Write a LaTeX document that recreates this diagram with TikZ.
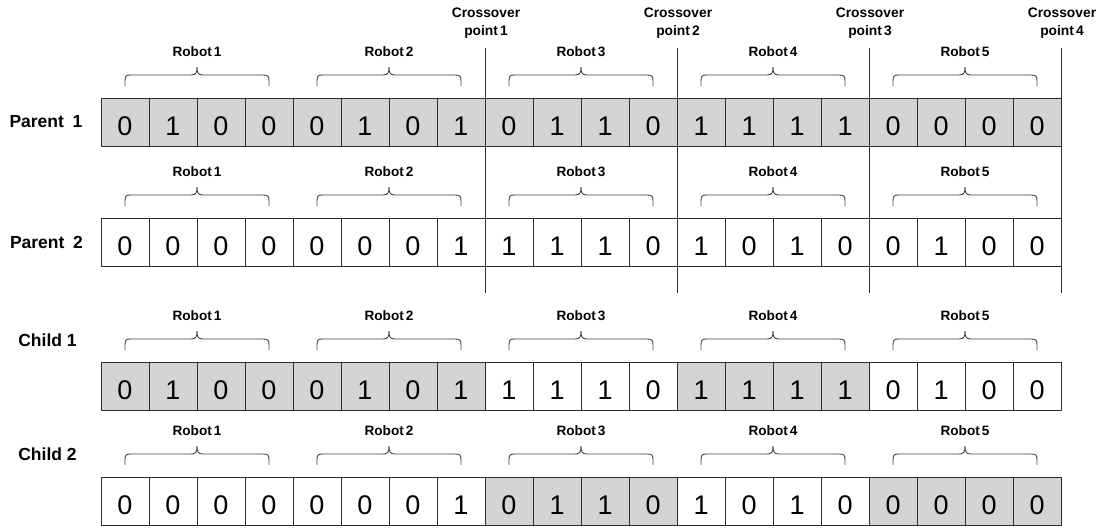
\documentclass[tikz,border=0pt]{standalone}
\usepackage{fontspec}
\setmainfont{Liberation Sans}
\definecolor{cellgrey}{RGB}{212,212,212}
\definecolor{linegrey}{RGB}{45,45,45}
\tikzset{
  cell/.style={draw=linegrey, line width=1pt, minimum width=48pt, minimum height=48pt,
    inner sep=0pt, outer sep=0pt, anchor=north west,
    font=\fontsize{27}{27}\selectfont, text height=26pt, text depth=0pt},
  rowlabel/.style={font=\bfseries\fontsize{17.5}{18}\selectfont, inner sep=0pt},
  robotlabel/.style={font=\bfseries\fontsize{13.6}{13.6}\selectfont, inner sep=0pt},
  crosslabel/.style={font=\bfseries\fontsize{13.8}{18}\selectfont, align=center, inner sep=0pt},
  crossline/.style={draw=linegrey, line width=0.9pt},
  bracestyle/.style={draw=linegrey!90, line width=0.9pt},
}
\newcommand\bitrow[4]{%
  \foreach \b [count=\i from 0] in {#3} {%
    \pgfmathtruncatemacro\g{floor(\i/4)}%
    \pgfmathtruncatemacro\f{{#4}[\g]}%
    \ifnum\f=1 \def\fc{cellgrey}\else\def\fc{white}\fi
    \node[cell, fill=\fc] (#1-\i) at ({101+48*\i}, #2) {\b};
  }%
}
\newcommand\robotbraces[2]{%
  \foreach \k in {0,...,4} {%
    \pgfmathsetmacro\xa{125+192*\k}%
    \pgfmathsetmacro\xb{\xa+144}%
    \pgfmathsetmacro\xc{\xa+72}%
    \pgfmathsetmacro\yb{#2-12}%
    \pgfmathsetmacro\yh{#2-23}%
    \pgfmathsetmacro\yt{#2-31}%
    \pgfmathsetmacro\yl{#2-46}%
    \pgfmathtruncatemacro\rn{\k+1}%
    \draw[bracestyle] (\xa,\yb) -- (\xa,\yh+6)
      .. controls (\xa,\yh+1) and (\xa+1,\yh) .. (\xa+6,\yh)
      -- (\xc-6,\yh) .. controls (\xc-1,\yh) and (\xc,\yh-2) .. (\xc,\yt)
      .. controls (\xc,\yh-2) and (\xc+1,\yh) .. (\xc+6,\yh)
      -- (\xb-6,\yh) .. controls (\xb-1,\yh) and (\xb,\yh+1) .. (\xb,\yh+6)
      -- (\xb,\yb);
    \node[robotlabel] (#1-robot\rn) at (\xc,\yl) {Robot\hspace{0.15em}\rn};
  }%
}
\begin{document}
\begin{tikzpicture}[x=1pt,y=-1pt]
  \useasboundingbox (0,0) rectangle (1102,527);
  % rows
  \bitrow{pa}{98}{0,1,0,0,0,1,0,1,0,1,1,0,1,1,1,1,0,0,0,0}{1,1,1,1,1}
  \bitrow{pb}{218}{0,0,0,0,0,0,0,1,1,1,1,0,1,0,1,0,0,1,0,0}{0,0,0,0,0}
  \bitrow{ca}{362}{0,1,0,0,0,1,0,1,1,1,1,0,1,1,1,1,0,1,0,0}{1,1,0,1,0}
  \bitrow{cb}{477}{0,0,0,0,0,0,0,1,0,1,1,0,1,0,1,0,0,0,0,0}{0,0,1,0,1}
  % braces
  \robotbraces{pa}{98}
  \robotbraces{pb}{218}
  \robotbraces{ca}{362}
  \robotbraces{cb}{477}
  % row labels
  \node[rowlabel] (lpa) at (46,122) {Parent\hspace{0.5em}1};
  \node[rowlabel] (lpb) at (46.5,242) {Parent\hspace{0.5em}2};
  \node[rowlabel] (lca) at (47.5,340) {Child 1};
  \node[rowlabel] (lcb) at (47.5,454) {Child 2};
  % crossover lines and labels
  \foreach \n/\x in {1/485,2/677,3/869,4/1061} {
    \coordinate (cx\n t) at (\x,48);
    \coordinate (cx\n b) at (\x,293);
    \draw[crossline] (cx\n t) -- (cx\n b);
    \node[crosslabel] (cl\n) at (\x+1,23) {Crossover\\point\hspace{0.15em}\n};
  }
\end{tikzpicture}
\end{document}
